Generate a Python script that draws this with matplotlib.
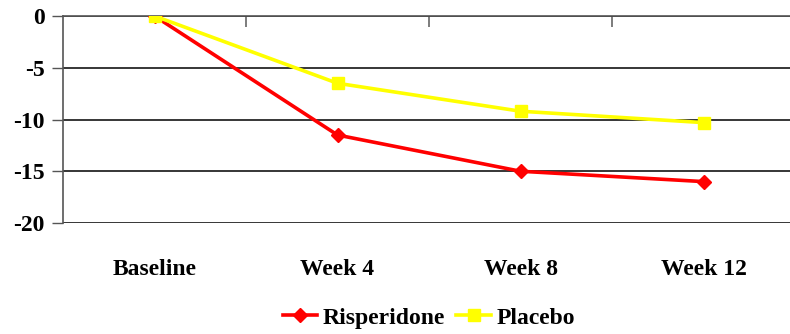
import matplotlib
matplotlib.use("Agg")
import matplotlib.pyplot as plt
from matplotlib.ticker import FixedLocator

visits = ["Baseline", "Week 4", "Week 8", "Week 12"]
risperidone = [0, -11.5, -15.0, -16.0]
placebo = [0, -6.5, -9.2, -10.3]
y_ticks = [0, -5, -10, -15, -20]

plt.rcParams["font.family"] = ["Liberation Serif", "DejaVu Serif"]
plt.rcParams["font.weight"] = "bold"

fig = plt.figure(figsize=(7.9, 3.34), dpi=100)
ax = fig.add_axes([63 / 790, 1 - 223 / 334, 732 / 790, (223 - 16) / 334])

x = range(len(visits))
ax.plot(x, risperidone, color="#FF0000", lw=2.6, marker="D", ms=7.5,
        label="Risperidone", zorder=3)
ax.plot(x, placebo, color="#FFFF00", lw=2.6, marker="s", ms=9,
        label="Placebo", zorder=4)

ax.set_xlim(-0.5, 3.5)
ax.set_ylim(-20, 0)
ax.set_yticks(y_ticks)
ax.set_yticklabels([str(v) for v in y_ticks], fontsize=17, fontweight="bold")
ax.yaxis.grid(True, color="black", lw=1.1)
ax.set_axisbelow(True)

ax.set_xticks(list(x))
ax.set_xticklabels(visits, fontsize=17, fontweight="bold")
ax.tick_params(axis="x", which="major", length=0, pad=26)
ax.tick_params(axis="y", direction="out", length=8, width=1, color="#555555", pad=5)

# category separators hang from the zero line at the top
ax.xaxis.set_minor_locator(FixedLocator([0.5, 1.5, 2.5]))
ax.tick_params(axis="x", which="minor", top=True, bottom=False,
               direction="in", length=8, width=1.2, color="#666666")

for side in ["right", "bottom"]:
    ax.spines[side].set_visible(False)
ax.spines["left"].set_color("#555555")
ax.spines["left"].set_linewidth(1.2)
ax.spines["top"].set_color("#555555")
ax.spines["top"].set_linewidth(1.2)

fig.legend(loc="center", bbox_to_anchor=(429 / 790, 1 - 318 / 334), ncol=2,
           frameon=False, prop={"size": 17, "weight": "bold"},
           handlelength=1.45, handletextpad=0.25, columnspacing=0.47)

fig.savefig("out.png", dpi=100)
